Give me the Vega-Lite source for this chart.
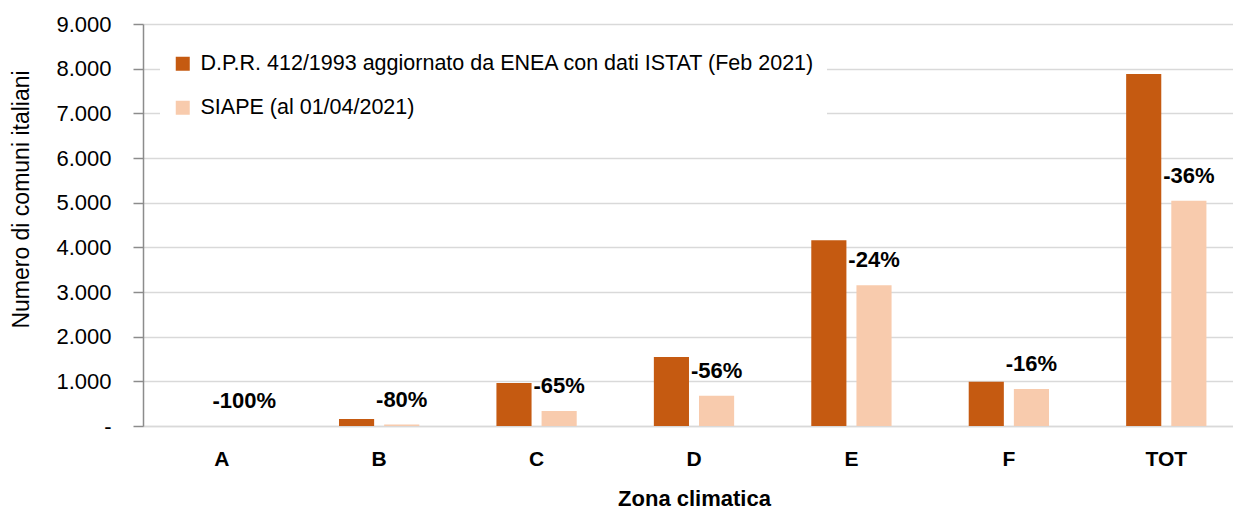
{
  "$schema": "https://vega.github.io/schema/vega-lite/v6.json",
  "autosize": "none",
  "padding": {"left": 143, "top": 24, "right": 0, "bottom": 84},
  "width": 1102,
  "height": 402,
  "background": "white",
  "config": {
    "font": "Liberation Sans",
    "view": {"stroke": null}
  },
  "data": {
    "values": [
      {"zona": "A", "serie": "D.P.R. 412/1993 aggiornato da ENEA con dati ISTAT (Feb 2021)", "valore": 2},
      {"zona": "A", "serie": "SIAPE (al 01/04/2021)", "valore": 0, "etichetta": "-100%"},
      {"zona": "B", "serie": "D.P.R. 412/1993 aggiornato da ENEA con dati ISTAT (Feb 2021)", "valore": 157},
      {"zona": "B", "serie": "SIAPE (al 01/04/2021)", "valore": 31, "etichetta": "-80%"},
      {"zona": "C", "serie": "D.P.R. 412/1993 aggiornato da ENEA con dati ISTAT (Feb 2021)", "valore": 960},
      {"zona": "C", "serie": "SIAPE (al 01/04/2021)", "valore": 336, "etichetta": "-65%"},
      {"zona": "D", "serie": "D.P.R. 412/1993 aggiornato da ENEA con dati ISTAT (Feb 2021)", "valore": 1545},
      {"zona": "D", "serie": "SIAPE (al 01/04/2021)", "valore": 680, "etichetta": "-56%"},
      {"zona": "E", "serie": "D.P.R. 412/1993 aggiornato da ENEA con dati ISTAT (Feb 2021)", "valore": 4160},
      {"zona": "E", "serie": "SIAPE (al 01/04/2021)", "valore": 3150, "etichetta": "-24%"},
      {"zona": "F", "serie": "D.P.R. 412/1993 aggiornato da ENEA con dati ISTAT (Feb 2021)", "valore": 990},
      {"zona": "F", "serie": "SIAPE (al 01/04/2021)", "valore": 830, "etichetta": "-16%"},
      {"zona": "TOT", "serie": "D.P.R. 412/1993 aggiornato da ENEA con dati ISTAT (Feb 2021)", "valore": 7880},
      {"zona": "TOT", "serie": "SIAPE (al 01/04/2021)", "valore": 5045, "etichetta": "-36%"}
    ]
  },
  "encoding": {
    "x": {
      "field": "zona",
      "type": "nominal",
      "sort": ["A", "B", "C", "D", "E", "F", "TOT"],
      "scale": {"paddingInner": 0.49, "paddingOuter": 0.245},
      "axis": {
        "title": "Zona climatica",
        "labelAngle": 0,
        "labelFont": "Liberation Sans",
        "labelFontWeight": "bold",
        "labelFontSize": 21,
        "labelColor": "#000000",
        "labelPadding": 22,
        "ticks": false,
        "domainColor": "#d9d9d9",
        "domainWidth": 1.5,
        "titleFont": "Liberation Sans",
        "titleFontWeight": "bold",
        "titleFontSize": 22,
        "titleColor": "#000000",
        "titleX": 551,
        "titleY": 72,
        "titleBaseline": "middle"
      }
    },
    "xOffset": {
      "field": "serie",
      "type": "nominal",
      "sort": ["D.P.R. 412/1993 aggiornato da ENEA con dati ISTAT (Feb 2021)", "SIAPE (al 01/04/2021)"],
      "scale": {"paddingInner": 0.222, "paddingOuter": 0}
    },
    "y": {
      "field": "valore",
      "type": "quantitative",
      "scale": {"domain": [0, 9000], "nice": false},
      "axis": {
        "title": "Numero di comuni italiani",
        "values": [0, 1000, 2000, 3000, 4000, 5000, 6000, 7000, 8000, 9000],
        "labelExpr": "datum.value === 0 ? '-' : replace(format(datum.value, ','), ',', '.')",
        "labelFont": "Liberation Sans",
        "labelFontSize": 22,
        "labelColor": "#000000",
        "labelPadding": 22,
        "tickSize": 10,
        "tickColor": "#8c8c8c",
        "tickWidth": 1.5,
        "domainColor": "#8c8c8c",
        "domainWidth": 1.5,
        "gridColor": "#d9d9d9",
        "gridWidth": 1.5,
        "titleFont": "Liberation Sans",
        "titleFontWeight": "normal",
        "titleFontSize": 23,
        "titleColor": "#000000",
        "titleAngle": -90,
        "titleX": -122,
        "titleY": 175,
        "titleAlign": "center",
        "titleBaseline": "middle"
      }
    }
  },
  "layer": [
    {
      "mark": {"type": "bar"},
      "encoding": {
        "color": {
          "field": "serie",
          "type": "nominal",
          "sort": ["D.P.R. 412/1993 aggiornato da ENEA con dati ISTAT (Feb 2021)", "SIAPE (al 01/04/2021)"],
          "scale": {"range": ["#C55A11", "#F8CBAD"]},
          "legend": {
            "title": null,
            "orient": "none",
            "legendX": 17,
            "legendY": 17,
            "fillColor": "white",
            "padding": 12,
            "symbolType": "square",
            "symbolSize": 196,
            "symbolStrokeWidth": 0,
            "labelFont": "Liberation Sans",
            "labelFontSize": 21.5,
            "labelColor": "#000000",
            "labelOffset": 7,
            "labelLimit": 1000,
            "rowPadding": 21
          }
        }
      }
    },
    {
      "transform": [{"filter": "datum.etichetta != null"}],
      "mark": {
        "type": "text",
        "dy": -25,
        "font": "Liberation Sans",
        "fontWeight": "bold",
        "fontSize": 22,
        "color": "#000000",
        "baseline": "middle"
      },
      "encoding": {
        "text": {"field": "etichetta"}
      }
    }
  ]
}
